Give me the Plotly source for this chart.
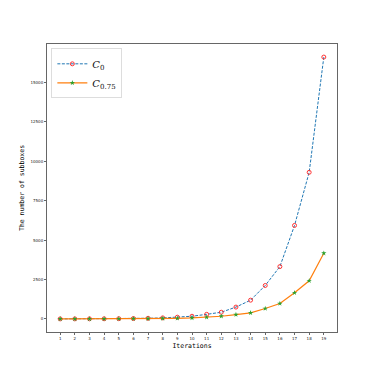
import plotly.graph_objects as go

iterations = list(range(1, 20))
c0 = [1, 2, 4, 8, 15, 25, 40, 65, 110, 170, 290, 425, 750, 1190, 2120, 3320, 5930, 9300, 16610]
c075 = [1, 2, 3, 5, 8, 12, 18, 27, 40, 60, 105, 170, 275, 385, 660, 975, 1660, 2420, 4170]
y_ticks = [0, 2500, 5000, 7500, 10000, 12500, 15000]

fig = go.Figure()
fig.add_trace(go.Scatter(
    x=iterations, y=c0, mode="lines+markers",
    name="<i>C</i><sub>0</sub>",
    line=dict(color="#1f77b4", width=1, dash="3px,1.5px"),
    marker=dict(symbol="circle-open", color="#ff3333", size=4, line=dict(width=1)),
))
fig.add_trace(go.Scatter(
    x=iterations, y=c075, mode="lines+markers",
    name="<i>C</i><sub>0.75</sub>",
    line=dict(color="#ff7f0e", width=1.2),
    marker=dict(symbol="star", color="#2ca02c", size=4),
))

axis_common = dict(
    showgrid=False, zeroline=False, showline=True, linecolor="#666", linewidth=1,
    mirror=True, ticks="outside", ticklen=2, tickcolor="#666",
    tickfont=dict(size=4, family="DejaVu Sans", color="#222"),
    automargin=False,
)
fig.update_layout(
    width=374, height=374,
    margin=dict(l=39, r=45, t=36, b=50),
    plot_bgcolor="white", paper_bgcolor="white",
    showlegend=True,
    legend=dict(
        x=0.015, y=0.985, xanchor="left", yanchor="top",
        bgcolor="rgba(255,255,255,0.8)", bordercolor="#ddd", borderwidth=1,
        font=dict(size=10, family="DejaVu Serif", color="#111"),
        tracegroupgap=0, itemwidth=30,
    ),
    xaxis=dict(
        range=[0.1, 19.9], tickmode="array", tickvals=iterations,
        title=dict(text="Iterations", font=dict(size=6.5, family="DejaVu Sans Mono", color="#000"), standoff=3),
        **axis_common,
    ),
    yaxis=dict(
        range=[-830, 17440], tickmode="array", tickvals=y_ticks,
        ticktext=[str(v) for v in y_ticks],
        title=dict(text="The number of subboxes", font=dict(size=6.5, family="DejaVu Sans Mono", color="#000"), standoff=5),
        **axis_common,
    ),
)

fig.write_html("out.html")
